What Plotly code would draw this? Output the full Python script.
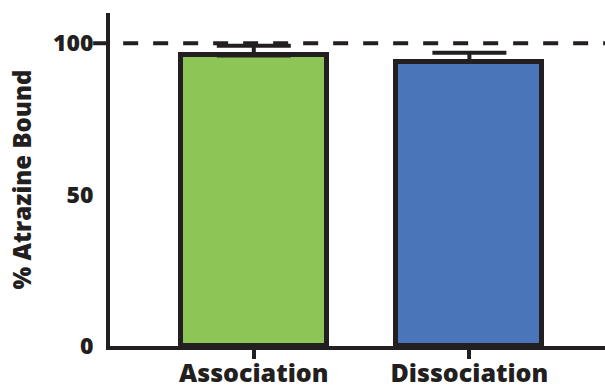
import plotly.graph_objects as go

# Binding results
conditions = ["Association", "Dissociation"]
bound_pct = [96.0, 93.9]
bound_err = [3.2, 3.0]
bar_colors = ["#8DC656", "#4A76B9"]
reference_level = 100
y_ticks = [0, 50, 100]

ink = "#231F20"
font_family = "Open Sans, Noto Sans, sans-serif"

fig = go.Figure()

fig.add_trace(go.Bar(
    x=list(range(len(conditions))),
    y=bound_pct,
    width=0.677,
    marker=dict(color=bar_colors, line=dict(color=ink, width=5)),
    error_y=dict(type="data", symmetric=False, array=bound_err,
                 arrayminus=[0] * len(bound_err),
                 color=ink, thickness=4, width=37),
    showlegend=False,
))

# Dashed reference line at 100 %
fig.add_shape(type="line", xref="paper", yref="y",
              x0=-0.034, x1=1.0, y0=reference_level, y1=reference_level,
              line=dict(color=ink, width=4, dash="15px,15px"), layer="above")

fig.update_layout(
    width=605, height=388,
    margin=dict(l=110, r=0, t=13, b=42),
    plot_bgcolor="white", paper_bgcolor="white",
    font=dict(family=font_family, color=ink),
    bargap=0,
)

fig.update_xaxes(
    range=[-0.667, 1.629],
    tickvals=list(range(len(conditions))),
    ticktext=conditions,
    tickfont=dict(size=25, family=font_family, color=ink, weight=800),
    showline=True, linewidth=4, linecolor=ink,
    ticks="outside", ticklen=9, tickwidth=4, tickcolor=ink,
    ticklabelstandoff=-7,
    showgrid=False, zeroline=False, automargin=False,
)

fig.update_yaxes(
    range=[0, 110],
    tickvals=y_ticks,
    ticktext=[str(v) for v in y_ticks],
    tickfont=dict(size=23, family=font_family, color=ink, weight=800),
    showline=True, linewidth=4, linecolor=ink,
    ticks="", ticklabelstandoff=8,
    showgrid=False, zeroline=False, automargin=False,
    title=dict(text="% Atrazine Bound",
               font=dict(size=24, family=font_family, color=ink, weight=800),
               standoff=16),
)

fig.write_html("out.html")
